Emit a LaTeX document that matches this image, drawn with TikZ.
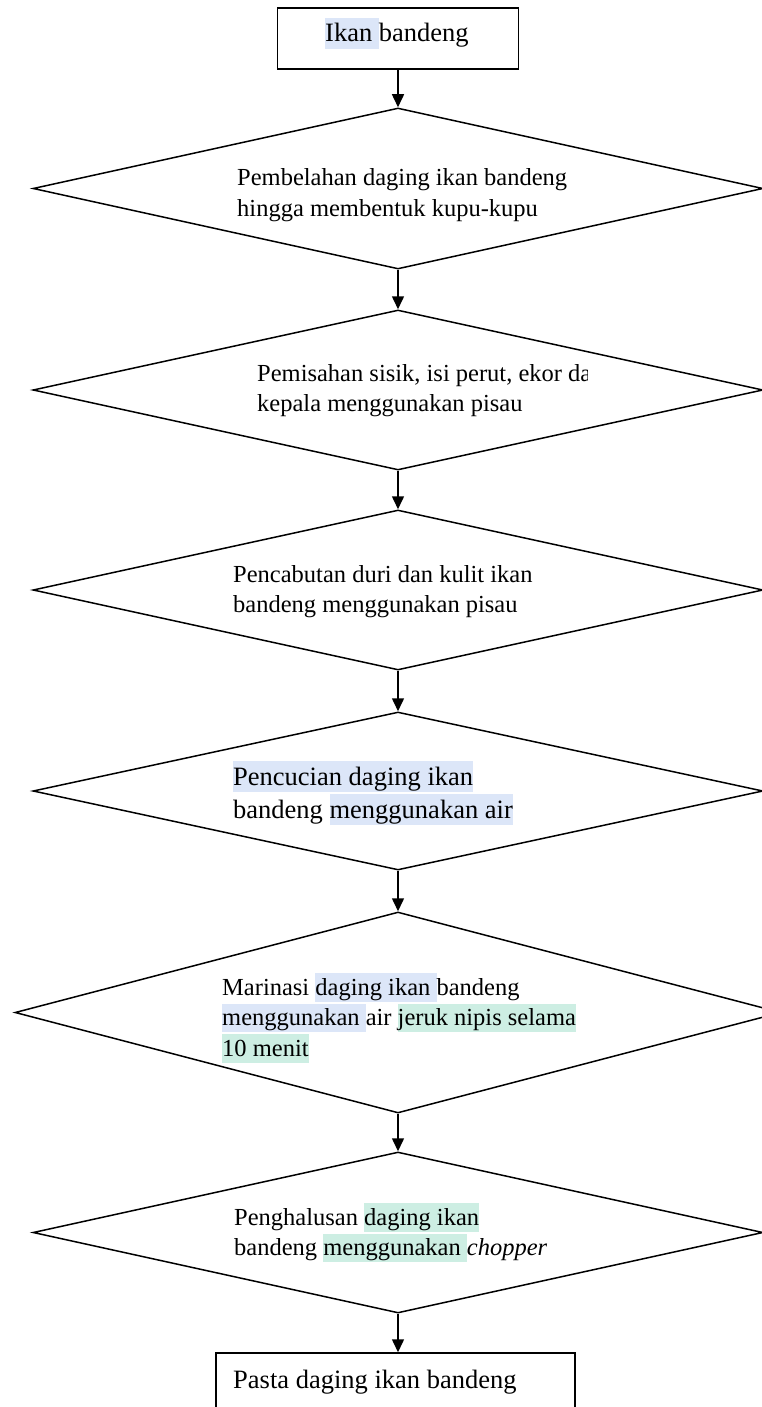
\documentclass[tikz,border=0pt]{standalone}
\usepackage{fontspec}
\setmainfont{Liberation Serif}
\usetikzlibrary{shapes.geometric,arrows.meta}
\definecolor{hlblue}{RGB}{220,230,248}
\definecolor{hlgreen}{RGB}{205,238,227}
\newcommand{\hlx}[2]{{\setlength{\fboxsep}{0pt}\colorbox{#1}{\rule[-0.26em]{0pt}{1.16em}#2}}}
\begin{document}
\begin{tikzpicture}[x=1pt,y=-1pt,
  dia/.style={draw, line width=1.5pt, shape=diamond, inner sep=0pt, line join=miter},
  boxnode/.style={draw, line width=1.5pt, rectangle, inner sep=0pt},
  arr/.style={line width=1.5pt, -{Triangle[width=12pt,length=13pt]}},
  dtext/.style={anchor=north west, inner sep=0pt, align=left, font=\fontsize{24.5}{30.5}\selectfont},
  btext/.style={anchor=base west, inner sep=0pt, font=\fontsize{26.5}{33}\selectfont},
]
\useasboundingbox (0,0) rectangle (762,1407);
\clip (0,0) rectangle (762,1407);

% boxes
\node[boxnode, minimum width=241pt, minimum height=61pt] (r1) at (398,38.5) {};
\node[btext] (t0) at (325,41.7) {\hlx{hlblue}{Ikan }bandeng};

\node[boxnode, minimum width=359pt, minimum height=77pt] (r2) at (395.5,1391.5) {};
\node[btext] (t7) at (233,1388) {Pasta daging ikan bandeng};

% diamonds
\node[dia, minimum width=730pt, minimum height=161pt] (d1) at (398,188.5) {};
\node[dia, minimum width=730pt, minimum height=160pt] (d2) at (398,390) {};
\node[dia, minimum width=730pt, minimum height=160pt] (d3) at (398,590) {};
\node[dia, minimum width=730pt, minimum height=158pt] (d4) at (398,791) {};
\node[dia, minimum width=766pt, minimum height=201pt] (d5) at (398,1012.5) {};
\node[dia, minimum width=730pt, minimum height=161pt] (d6) at (398,1232.5) {};

% texts
\node[dtext] (t1) at (237,162.5) {\rule{0pt}{23pt}Pembelahan daging ikan bandeng\\hingga membentuk kupu-kupu};
\begin{scope}
\clip (0,0) rectangle (587,1407);
\node[dtext] (t2) at (257,358) {\rule{0pt}{23pt}Pemisahan sisik, isi perut, ekor da\\kepala menggunakan pisau};
\end{scope}
\node[dtext] (t3) at (233,559) {\rule{0pt}{23pt}Pencabutan duri dan kulit ikan\\bandeng menggunakan pisau};
\node[dtext, font=\fontsize{26.5}{33}\selectfont] (t4) at (233,761) {\rule{0pt}{24pt}\hlx{hlblue}{Pencucian daging ikan}\\bandeng \hlx{hlblue}{menggunakan air}};
\node[dtext] (t5) at (222,972) {\rule{0pt}{23pt}Marinasi \hlx{hlblue}{daging ikan }bandeng\\\hlx{hlblue}{menggunakan }air \hlx{hlgreen}{jeruk nipis selama}\\\hlx{hlgreen}{10 menit}};
\node[dtext] (t6) at (234,1202) {\rule{0pt}{23pt}Penghalusan \hlx{hlgreen}{daging ikan}\\bandeng \hlx{hlgreen}{menggunakan }\textit{chopper}};

% arrows
\draw[arr] (r1.south) -- (d1.north);
\draw[arr] (d1.south) -- (d2.north);
\draw[arr] (d2.south) -- (d3.north);
\draw[arr] (d3.south) -- (d4.north);
\draw[arr] (d4.south) -- (d5.north);
\draw[arr] (d5.south) -- (d6.north);
\draw[arr] (d6.south) -- (d6.south |- r2.north);
\end{tikzpicture}
\end{document}
